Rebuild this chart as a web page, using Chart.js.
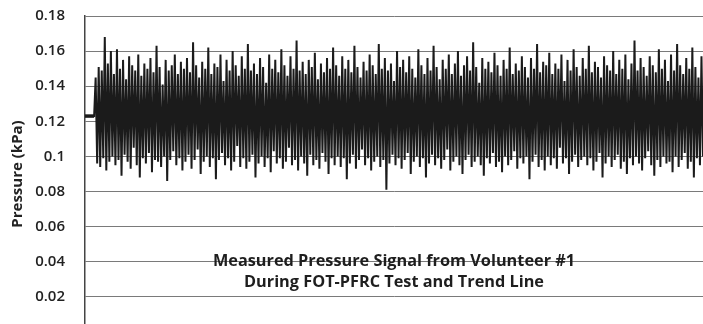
<!DOCTYPE html>
<html>
<head>
<meta charset="utf-8">
<script src="https://cdn.jsdelivr.net/npm/chart.js@4.4.1/dist/chart.umd.min.js"></script>
<style>
    html, body { margin: 0; padding: 0; background: #ffffff; overflow: hidden; }
    #wrap { position: relative; width: 703px; height: 324px; overflow: hidden; }
    #pressureChart { display: block; margin-top: -13px; }
</style>
</head>
<body>
<div id="wrap"><canvas id="pressureChart" width="703" height="374"></canvas></div>
<script>
// --- Data (kPa) ---
const leadIn = [0.123, 0.123, 0.123, 0.123, 0.123, 0.123, 0.123];

const pressure = [
    0.145,0.096,0.151,0.094,0.149,0.099,0.168,0.092,0.153,0.097,0.160,0.100,0.147,0.095,0.161,0.098,0.150,0.089,0.155,0.101,
    0.144,0.097,0.157,0.093,0.152,0.105,0.149,0.095,0.158,0.088,0.146,0.099,0.153,0.096,0.150,0.102,0.156,0.091,0.148,0.098,
    0.163,0.097,0.151,0.094,0.141,0.100,0.155,0.086,0.149,0.098,0.152,0.103,0.158,0.095,0.147,0.099,0.154,0.092,0.150,0.097,
    0.156,0.101,0.148,0.093,0.165,0.098,0.152,0.104,0.145,0.090,0.154,0.097,0.150,0.100,0.162,0.094,0.147,0.099,0.153,0.087,
    0.151,0.098,0.158,0.102,0.143,0.095,0.155,0.099,0.149,0.092,0.160,0.097,0.152,0.106,0.146,0.094,0.157,0.099,0.150,0.093,
    0.164,0.097,0.149,0.101,0.153,0.088,0.147,0.096,0.156,0.100,0.151,0.094,0.142,0.099,0.158,0.091,0.150,0.103,0.155,0.096,
    0.148,0.099,0.161,0.093,0.152,0.097,0.146,0.105,0.157,0.095,0.150,0.098,0.166,0.092,0.149,0.100,0.154,0.096,0.147,0.089,
    0.155,0.101,0.151,0.095,0.159,0.098,0.144,0.093,0.153,0.102,0.148,0.097,0.156,0.090,0.150,0.099,0.162,0.095,0.152,0.100,
    0.146,0.094,0.157,0.099,0.150,0.087,0.155,0.096,0.148,0.101,0.163,0.093,0.151,0.098,0.145,0.104,0.154,0.095,0.149,0.099,
    0.158,0.092,0.152,0.097,0.147,0.100,0.164,0.094,0.150,0.098,0.156,0.081,0.149,0.096,0.153,0.101,0.143,0.095,0.160,0.099,
    0.151,0.093,0.155,0.098,0.148,0.102,0.157,0.090,0.150,0.097,0.145,0.100,0.161,0.094,0.152,0.099,0.147,0.088,0.156,0.096,
    0.149,0.101,0.163,0.095,0.151,0.099,0.144,0.093,0.155,0.098,0.150,0.104,0.158,0.092,0.147,0.097,0.153,0.100,0.160,0.095,
    0.146,0.090,0.152,0.098,0.157,0.101,0.149,0.094,0.165,0.097,0.151,0.100,0.142,0.095,0.156,0.089,0.150,0.099,0.154,0.096,
    0.148,0.102,0.159,0.094,0.152,0.097,0.146,0.091,0.155,0.100,0.150,0.095,0.162,0.098,0.147,0.103,0.153,0.093,0.149,0.099,
    0.157,0.096,0.151,0.100,0.145,0.087,0.156,0.097,0.150,0.101,0.164,0.094,0.148,0.098,0.154,0.092,0.152,0.100,0.159,0.095,
    0.147,0.099,0.153,0.093,0.150,0.105,0.158,0.096,0.143,0.099,0.155,0.090,0.149,0.097,0.161,0.101,0.151,0.094,0.146,0.098,
    0.156,0.100,0.150,0.095,0.163,0.099,0.148,0.092,0.154,0.097,0.151,0.102,0.145,0.088,0.157,0.096,0.152,0.100,0.149,0.094,
    0.160,0.098,0.147,0.101,0.155,0.093,0.150,0.097,0.158,0.090,0.144,0.099,0.153,0.095,0.166,0.100,0.149,0.096,0.156,0.092,
    0.151,0.099,0.146,0.103,0.157,0.095,0.152,0.089,0.148,0.098,0.161,0.094,0.150,0.100,0.155,0.096,0.143,0.097,0.158,0.091,
    0.149,0.100,0.164,0.094,0.152,0.098,0.147,0.102,0.156,0.093,0.150,0.097,0.162,0.088,0.151,0.099,0.145,0.095,0.157,0.100
];

const yTicks = [0, 0.02, 0.04, 0.06, 0.08, 0.1, 0.12, 0.14, 0.16, 0.18];
const axisTitle = 'Pressure (kPa)';
const captionLines = ['Measured Pressure Signal from Volunteer #1', 'During FOT-PFRC Test and Trend Line'];

// --- Build ---
const signal = leadIn.concat(pressure);
const samples = signal.map((_, i) => i);

// caption written inside the plot area, over the gridlines
const captionPlugin = {
    id: 'caption',
    afterDatasetsDraw(chart) {
        const { ctx } = chart;
        const y = chart.scales.y;
        const cy = y.getPixelForValue(0.04);
        ctx.save();
        ctx.fillStyle = '#1e1e1e';
        ctx.font = 'bold 16.3px "Open Sans"';
        ctx.textAlign = 'center';
        ctx.textBaseline = 'middle';
        ctx.fillText(captionLines[0], 394, cy);
        ctx.fillText(captionLines[1], 394, cy + 21);
        ctx.restore();
    }
};

const ctx = document.getElementById('pressureChart').getContext('2d');
new Chart(ctx, {
    type: 'line',
    data: {
        labels: samples,
        datasets: [
            {
                data: signal,
                borderColor: '#1b1b1b',
                borderWidth: 2,
                pointRadius: 0,
                tension: 0
            },
            {
                data: leadIn,
                borderColor: '#1b1b1b',
                borderWidth: 3.5,
                pointRadius: 0,
                tension: 0
            }
        ]
    },
    options: {
        responsive: false,
        animation: false,
        events: [],
        layout: { padding: { left: 0, right: 0, top: 0, bottom: 12 } },
        plugins: {
            legend: { display: false },
            tooltip: { enabled: false }
        },
        scales: {
            x: {
                display: false,
                min: 0,
                max: signal.length - 1
            },
            y: {
                min: 0,
                max: 0.18,
                afterBuildTicks: (axis) => { axis.ticks = yTicks.map(v => ({ value: v })); },
                afterFit: (axis) => { axis.width = 85; },
                border: { display: true, color: '#444', width: 1.5 },
                grid: {
                    color: '#7a7a7a',
                    lineWidth: 1,
                    drawTicks: false
                },
                ticks: {
                    padding: 20,
                    color: '#222',
                    font: { family: 'Open Sans', size: 15, weight: '600' },
                    callback: (v) => String(Number(v.toFixed(2)))
                },
                title: {
                    display: true,
                    text: axisTitle,
                    color: '#222',
                    font: { family: 'Open Sans', size: 15, weight: 'bold' },
                    padding: { top: 9, bottom: 0 }
                }
            }
        }
    },
    plugins: [captionPlugin]
});
</script>
</body>
</html>
